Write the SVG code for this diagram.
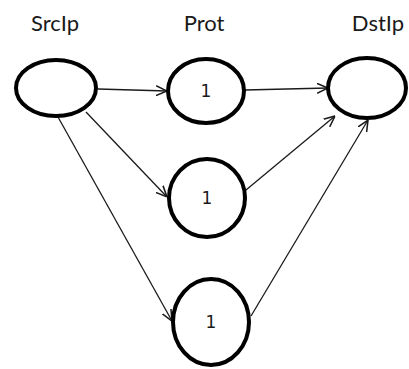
<svg xmlns="http://www.w3.org/2000/svg" width="409" height="369" viewBox="0 0 409 369">
  <style>
    .node { fill: #ffffff; stroke: #000000; stroke-width: 4; }
    .edge { fill: none; stroke: #1a1a1a; stroke-width: 1.3; marker-end: url(#arrow); }
    .head { font-family: Lato, "Open Sans", sans-serif; font-size: 22px; fill: #1a1a1a; text-anchor: middle; }
    .val { font-family: "DejaVu Sans", sans-serif; font-size: 17px; fill: #1a1a1a; text-anchor: middle; dominant-baseline: central; }
  </style>
  <defs>
    <marker id="arrow" viewBox="0 0 10 10" refX="10" refY="5" markerWidth="11" markerHeight="11" markerUnits="userSpaceOnUse" orient="auto">
      <path d="M0,0.5 L10,5 L0,9.5" fill="none" stroke="#1a1a1a" stroke-width="1.4"/>
    </marker>
  </defs>

  <!-- column headings -->
  <text class="head" x="55" y="31">SrcIp</text>
  <text class="head" x="204" y="31">Prot</text>
  <text class="head" x="378" y="31">DstIp</text>

  <!-- connectors -->
  <g id="edges">
    <line class="edge" x1="98" y1="89" x2="167" y2="91"/>
    <line class="edge" x1="245" y1="90" x2="328" y2="88"/>
    <line class="edge" x1="86" y1="112" x2="167" y2="197"/>
    <line class="edge" x1="58" y1="117" x2="172" y2="321"/>
    <line class="edge" x1="246" y1="190" x2="335" y2="116"/>
    <line class="edge" x1="251" y1="316" x2="368" y2="120"/>
  </g>

  <!-- nodes -->
  <g id="src">
    <ellipse class="node" cx="56" cy="88" rx="40" ry="28"/>
  </g>
  <g id="prot1">
    <ellipse class="node" cx="206" cy="91" rx="38" ry="32"/>
    <text class="val" x="206" y="91">1</text>
  </g>
  <g id="prot2">
    <ellipse class="node" cx="207" cy="198" rx="38" ry="39"/>
    <text class="val" x="207" y="198">1</text>
  </g>
  <g id="prot3">
    <ellipse class="node" cx="211" cy="322" rx="38" ry="43"/>
    <text class="val" x="211" y="322">1</text>
  </g>
  <g id="dst">
    <ellipse class="node" cx="367" cy="88" rx="39" ry="30"/>
  </g>
</svg>
